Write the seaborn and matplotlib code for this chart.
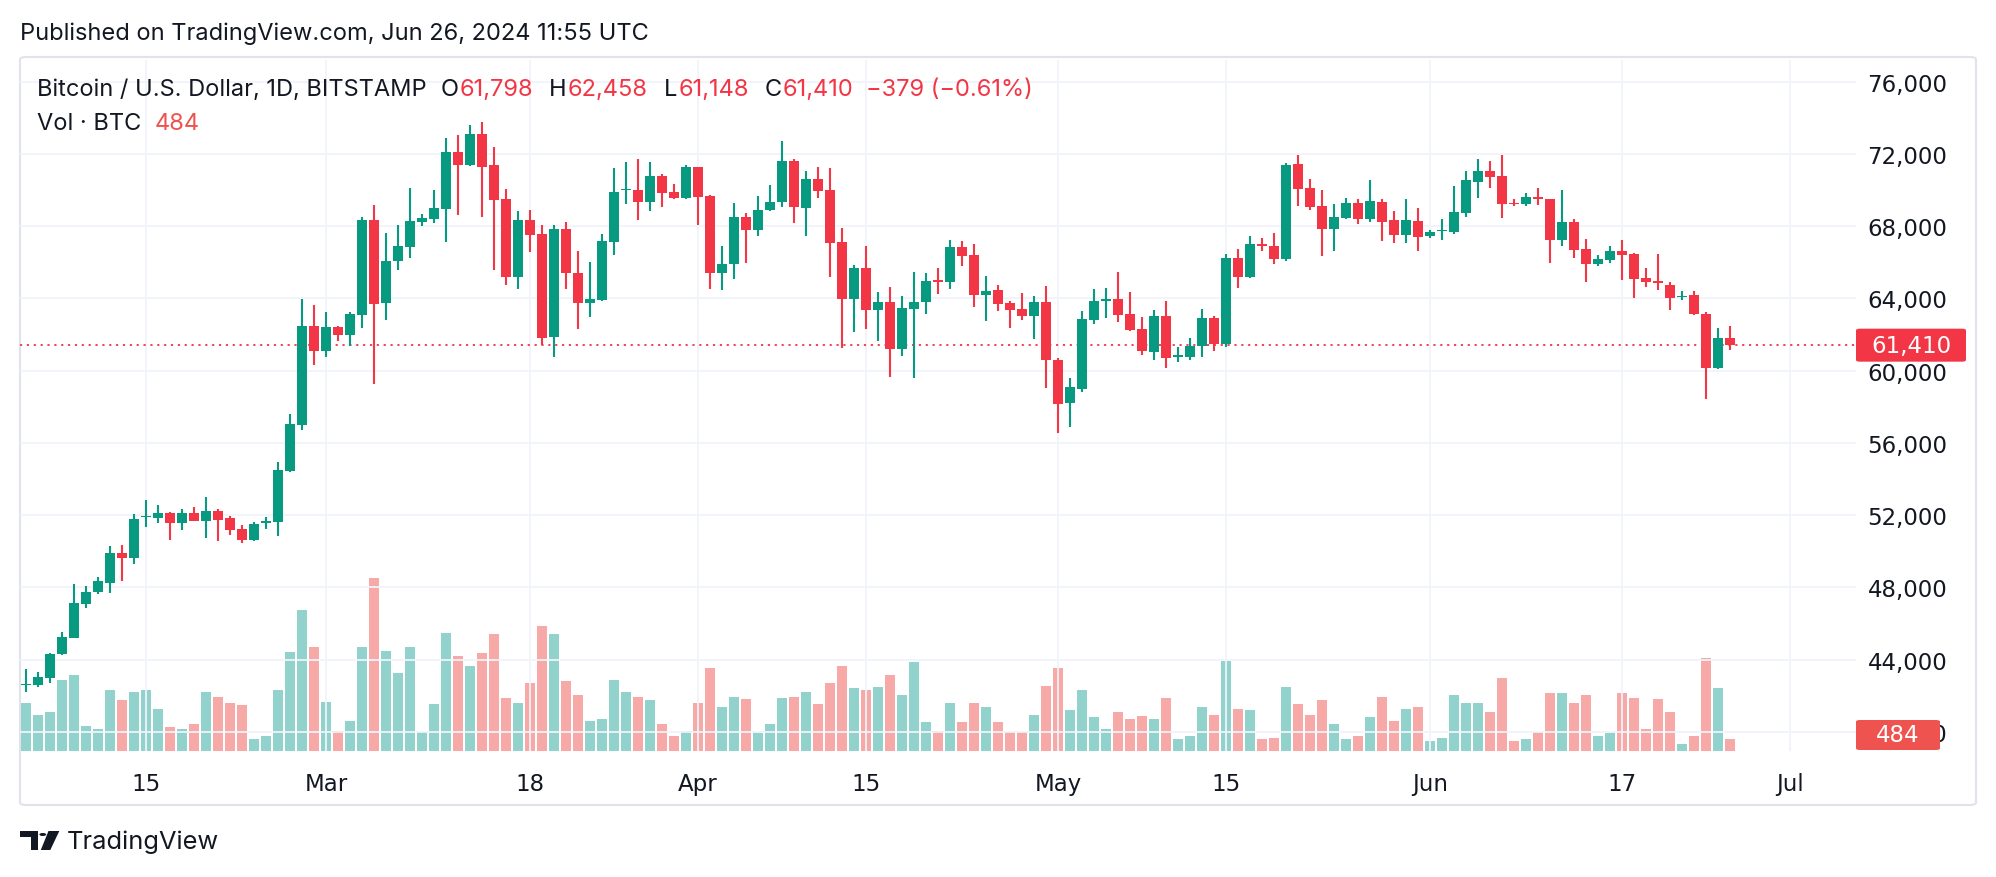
import matplotlib
matplotlib.use("Agg")
import numpy as np
import pandas as pd
import seaborn as sns
import matplotlib.pyplot as plt
from matplotlib.patches import FancyBboxPatch, Polygon, Circle

# Daily BTC/USD candles, Bitstamp, from Feb 5 2024 to Jun 26 2024
start_day = "2024-02-05"
open_ = [42580, 42570, 42980, 44290, 45210, 47090, 47730, 48260, 49910, 49630,
         51880, 51840, 52110, 51580, 52110, 51700, 52250, 51840, 51220, 50640,
         51560, 51630, 54450, 57000, 62460, 61100, 62410, 61980, 63100, 68330,
         63760, 66060, 66840, 68220, 68380, 68950, 72090, 71360, 73080, 71360,
         69480, 65160, 68330, 67550, 61880, 67830, 65420, 63760, 63900, 67110,
         69980, 69980, 69320, 70760, 69870, 69570, 71270, 69660, 65420, 65920,
         68490, 67800, 68880, 69320, 71590, 69020, 70600, 69980, 67110, 63970,
         65710, 63380, 63790, 61220, 63420, 63790, 65000, 64890, 66840, 66380,
         64200, 64450, 63740, 63400, 63030, 63790, 60580, 58210, 58990, 62820,
         63830, 63990, 63120, 62300, 61040, 63030, 60780, 60740, 61380, 62890,
         61490, 66220, 65190, 67000, 66880, 66200, 71430, 70100, 69110, 67850,
         68440, 69270, 68400, 69320, 68330, 67530, 68260, 67480, 67710, 67690,
         68720, 70440, 71080, 70760, 69290, 69220, 69590, 69480, 67250, 68220,
         66720, 65920, 66100, 66610, 66450, 65120, 64960, 64750, 64060, 64200,
         63120, 60160, 61798]
high = [43490, 43300, 44360, 45530, 48190, 48100, 48580, 50280, 50350, 52070,
        52820, 52550, 52160, 52340, 52430, 53010, 52340, 51970, 51450, 51630,
        51880, 54960, 57590, 63950, 63630, 63240, 62480, 63240, 68510, 69160,
        67600, 68050, 70140, 68650, 69980, 72870, 73030, 73610, 73740, 72370,
        70050, 68830, 68880, 68080, 68080, 68220, 66610, 66010, 67550, 71200,
        71540, 71700, 71540, 70900, 70330, 71360, 71300, 69700, 66880, 69270,
        68720, 69660, 70260, 72690, 71700, 71080, 71270, 71200, 67890, 65830,
        66880, 64340, 64610, 64110, 65440, 65390, 65670, 67230, 67160, 67000,
        65230, 64730, 63830, 64290, 64110, 64660, 60710, 59590, 63280, 64500,
        64570, 65440, 64340, 62960, 63350, 63830, 61330, 61790, 63400, 63010,
        66450, 66720, 67440, 67320, 67600, 71500, 71930, 70600, 69980, 69200,
        69570, 69480, 70530, 69480, 68830, 69480, 69000, 67760, 68380, 70230,
        71040, 71700, 71590, 71930, 69480, 69820, 70140, 69500, 69980, 68380,
        67270, 66380, 66880, 67230, 66500, 65670, 66450, 64930, 64430, 64430,
        63260, 62340, 62458]
low = [42220, 42480, 42710, 44240, 45210, 46880, 47620, 47710, 48330, 49270,
       51350, 51580, 50640, 51170, 51650, 50740, 50550, 50900, 50460, 50550,
       51220, 50870, 54400, 56720, 60320, 60760, 61650, 61380, 62370, 59270,
       62820, 65580, 66220, 67990, 68170, 67110, 68610, 71310, 68490, 65580,
       64730, 64500, 66560, 61400, 60760, 64500, 62300, 62990, 63830, 66380,
       69200, 68330, 68830, 69060, 69500, 69500, 68050, 64500, 64450, 65070,
       65970, 67460, 68830, 69060, 68190, 67460, 69570, 65190, 61260, 62160,
       62320, 61630, 59660, 60830, 59610, 63150, 64250, 64520, 65810, 63510,
       62760, 63310, 62370, 62820, 61770, 59040, 56520, 56880, 58830, 62570,
       62890, 62710, 62200, 60870, 60600, 60160, 60460, 60600, 60760, 61100,
       61330, 64590, 65120, 66630, 65920, 66080, 69130, 68880, 66360, 66630,
       68400, 68120, 68240, 67160, 67070, 67070, 66630, 67340, 67250, 67570,
       68510, 69570, 70120, 68440, 69130, 69130, 69180, 65970, 66910, 66240,
       64910, 65810, 65970, 65030, 64040, 64610, 64480, 63350, 63930, 63080,
       58440, 60100, 61148]
close = [42650, 43030, 44310, 45250, 47130, 47730, 48330, 49910, 49630, 51790,
         51930, 52110, 51580, 52110, 51700, 52250, 51740, 51170, 50640, 51490,
         51650, 54500, 57040, 62460, 61100, 62410, 61980, 63120, 68330, 63700,
         66060, 66880, 68260, 68440, 69000, 72090, 71360, 73080, 71270, 69430,
         65160, 68330, 67530, 61820, 67830, 65420, 63760, 63950, 67160, 69870,
         70030, 69320, 70760, 69840, 69570, 71270, 69610, 65420, 65920, 68490,
         67800, 68880, 69320, 71590, 69060, 70600, 69960, 67070, 63970, 65710,
         63380, 63790, 61220, 63470, 63790, 64960, 64910, 66840, 66360, 64200,
         64430, 63700, 63380, 63030, 63790, 60580, 58170, 59090, 62870, 63830,
         63990, 63100, 62250, 61100, 63030, 60710, 60850, 61380, 62890, 61490,
         66220, 65190, 67000, 66910, 66200, 71380, 70070, 69060, 67850, 68490,
         69270, 68400, 69390, 68240, 67530, 68330, 67410, 67660, 67760, 68770,
         70530, 71080, 70740, 69220, 69220, 69590, 69500, 67250, 68220, 66680,
         65920, 66170, 66610, 66400, 65070, 64890, 64870, 64040, 64150, 63120,
         60160, 61789, 61410]
volume = [1990, 1520, 1640, 2980, 3180, 1060, 930, 2530, 2110, 2440,
          2530, 1730, 990, 930, 1110, 2440, 2230, 1990, 1900, 520,
          610, 2530, 4120, 5870, 4330, 2060, 850, 1230, 4330, 7200,
          4150, 3240, 4330, 810, 1940, 4900, 3980, 3560, 4070, 4860,
          2200, 2020, 2820, 5190, 4860, 2910, 2350, 1230, 1350, 2980,
          2440, 2270, 2110, 1110, 610, 850, 1990, 3440, 1850, 2270,
          2150, 730, 1110, 2200, 2270, 2440, 1940, 2820, 3560, 2610,
          2560, 2650, 3150, 2320, 3690, 1190, 850, 1990, 1190, 2020,
          1820, 1190, 810, 810, 1490, 2700, 3440, 1700, 2530, 1400,
          900, 1610, 1350, 1440, 1350, 2200, 520, 640, 1820, 1520,
          3740, 1730, 1700, 520, 550, 2650, 1940, 1520, 2110, 1110,
          520, 610, 1400, 2230, 1260, 1730, 1850, 400, 550, 2350,
          2020, 2020, 1640, 3060, 430, 480, 810, 2410, 2410, 1990,
          2350, 640, 730, 2410, 2200, 930, 2150, 1640, 280, 640,
          3890, 2610, 484]

tick_days = ["2024-02-15", "2024-03-01", "2024-03-18", "2024-04-01", "2024-04-15",
             "2024-05-01", "2024-05-15", "2024-06-01", "2024-06-17", "2024-07-01"]
tick_labels = ["15", "Mar", "18", "Apr", "15", "May", "15", "Jun", "17", "Jul"]
price_ticks = [40000, 44000, 48000, 52000, 56000, 60000, 64000, 68000, 72000, 76000]

GREEN = "#089981"
RED = "#f23645"
VOL_GREEN = "#92d2cc"
VOL_RED = "#f7a9a7"
TEXT = "#131722"
GRID = "#f0f3fa"

sns.set_style("white")
plt.rcParams["font.family"] = ["DejaVu Sans"]

W, H = 1996, 878
fig = plt.figure(figsize=(W / 100, H / 100), dpi=100)
fig.patch.set_facecolor("white")

def fx(px):
    return px / W

def fy(py):
    return 1 - py / H

dates = pd.date_range(start_day, periods=len(close), freq="D")
x = np.array((dates - dates[0]).days)
tick_x = np.array((pd.to_datetime(tick_days) - dates[0]).days)
o = np.array(open_, dtype=float)
c = np.array(close, dtype=float)
up = c >= o

ax = fig.add_axes([fx(20), fy(752), (1856 - 20) / W, (752 - 61) / H])
ax2 = ax.twinx()

# Volume bars
df = pd.DataFrame({"x": x, "vol": volume, "dir": np.where(up, "up", "down")})
sns.barplot(data=df, x="x", y="vol", hue="dir", palette={"up": VOL_GREEN, "down": VOL_RED},
            dodge=False, native_scale=True, width=0.8, saturation=1, errorbar=None,
            legend=False, linewidth=0, ax=ax2)
ax2.set_ylim(0, 28800)
ax2.set_yticks([])
ax2.set_ylabel("")
ax2.set_xlabel("")
for s in ax2.spines.values():
    s.set_visible(False)

# Candles
colors = np.where(up, GREEN, RED)
ax.vlines(x, low, high, colors=colors, linewidth=1.5, zorder=3)
body_bottom = np.minimum(o, c)
body_h = np.maximum(np.abs(c - o), 80)
ax.bar(x, body_h, bottom=body_bottom, width=0.8, color=colors, linewidth=0, zorder=4)

ax.set_zorder(ax2.get_zorder() + 1)
ax.patch.set_visible(False)

ax.set_xlim(-0.5, 152.5)
ax.set_ylim(38940, 77200)
ax.set_xticks(tick_x)
ax.set_xticklabels(tick_labels)
ax.yaxis.tick_right()
ax.set_yticks(price_ticks)
ax.set_yticklabels([f"{v:,}" for v in price_ticks])
ax.grid(True, color=GRID, linewidth=1.3)
ax.set_axisbelow(True)
ax.tick_params(axis="both", length=0, labelsize=16.5, colors=TEXT)
ax.tick_params(axis="x", pad=15)
ax.tick_params(axis="y", pad=37)
for lab in ax.get_yticklabels():
    lab.set_ha("center")
for s in ax.spines.values():
    s.set_visible(False)
ax.set_xlabel("")
ax.set_ylabel("")

# last price line
last = close[-1]
ax.axhline(last, color=RED, linewidth=1.3, linestyle=(0, (1.2, 2.6)), zorder=2)

fig.canvas.draw()
y_last = ax.transData.transform((0, last))[1]
box = FancyBboxPatch((fx(1856), (y_last - 16.5) / H), 110 / W, 33 / H,
                     boxstyle="round,pad=0,rounding_size=0.002", transform=fig.transFigure,
                     facecolor=RED, edgecolor="none", zorder=10)
fig.patches.append(box)
fig.text(fx(1911), y_last / H, f"{last:,}", color="white", fontsize=16.5,
         ha="center", va="center", zorder=11)

y_vol = max(ax2.transData.transform((0, volume[-1]))[1], (H - 752) + 16)
vbox = FancyBboxPatch((fx(1856), (y_vol - 15) / H), 84 / W, 30 / H,
                      boxstyle="round,pad=0,rounding_size=0.002", transform=fig.transFigure,
                      facecolor="#ef5350", edgecolor="none", zorder=10)
fig.patches.append(vbox)
fig.text(fx(1898), y_vol / H, f"{volume[-1]}", color="white", fontsize=16.5,
         ha="center", va="center", zorder=11)

# frame
frame = FancyBboxPatch((fx(20), fy(806)), (1976 - 20) / W, (806 - 58) / H,
                       boxstyle="round,pad=0,rounding_size=0.003", transform=fig.transFigure,
                       facecolor="none", edgecolor="#e0e3eb", linewidth=1.5, zorder=0.5)
fig.patches.append(frame)

# header texts
HF = ["Inter", "DejaVu Sans"]
fig.text(fx(20), fy(34), "Published on TradingView.com, Jun 26, 2024 11:55 UTC",
         fontsize=17, family=HF, color=TEXT, va="center")

renderer = fig.canvas.get_renderer()

def put(px, py, s, color, size=17):
    t = fig.text(fx(px), fy(py), s, fontsize=size, family=HF, color=color, va="center")
    return t.get_window_extent(renderer).x1

x1 = put(37, 90, "Bitcoin / U.S. Dollar, 1D, BITSTAMP", TEXT)
x1 += 14
for letter, val in [("O", open_[-1]), ("H", high[-1]), ("L", low[-1]), ("C", close[-1])]:
    x1 = put(x1, 90, letter, TEXT)
    x1 = put(x1 + 1, 90, f"{val:,}", RED) + 16
chg = close[-1] - close[-2]
pct = chg / close[-2] * 100
put(x1 - 4, 90, f"\u2212{abs(chg):,} (\u2212{abs(pct):.2f}%)", RED)
x1 = put(37, 124, "Vol \u00b7 BTC", TEXT)
put(x1 + 13, 124, f"{volume[-1]}", "#ef5350")

# TradingView logo
logo_t = Polygon([(fx(20), fy(832)), (fx(38.3), fy(832)), (fx(38.3), fy(851)),
                  (fx(30.7), fy(851)), (fx(30.7), fy(838)), (fx(20), fy(838))],
                 closed=True, transform=fig.transFigure, facecolor=TEXT, edgecolor="none")
fig.patches.append(logo_t)
logo_dot = Circle((fx(42.8), fy(835.5)), 3.4 / W, transform=fig.transFigure,
                  facecolor=TEXT, edgecolor="none")
fig.patches.append(logo_dot)
logo_v = Polygon([(fx(48.5), fy(832)), (fx(59.3), fy(832)), (fx(50.3), fy(851)),
                  (fx(40.8), fy(851))], closed=True, transform=fig.transFigure,
                 facecolor=TEXT, edgecolor="none")
fig.patches.append(logo_v)
fig.text(fx(67), fy(842), "TradingView", fontsize=18.3, family=HF, color=TEXT, va="center")

fig.savefig("out.png", dpi=100, facecolor="white")
